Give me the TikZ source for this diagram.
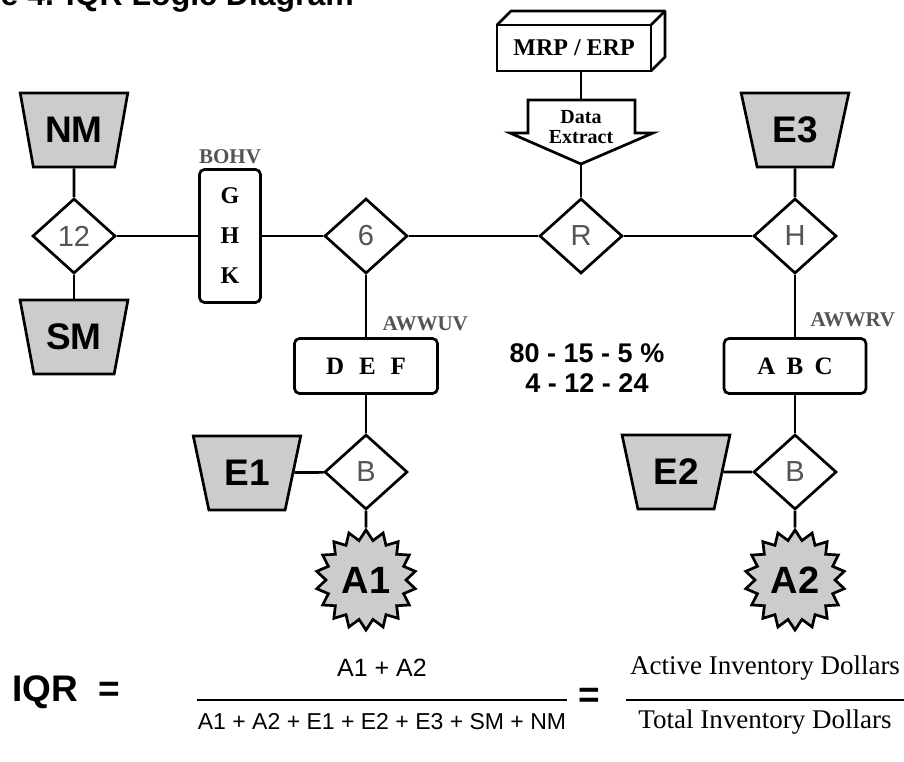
\documentclass[tikz,border=0pt]{standalone}
\usepackage{fontspec}
\setmainfont{Liberation Serif}
\setsansfont{Liberation Sans}
\usetikzlibrary{shapes.geometric}
\newcommand{\sz}[1]{\fontsize{#1}{#1}\selectfont}
\definecolor{shade}{gray}{0.8}
\definecolor{ink}{gray}{0.33}

\begin{document}
\begin{tikzpicture}[x=1pt,y=-1pt,line width=2.7pt,
  dia/.style={draw,diamond,fill=white,minimum width=83pt,minimum height=75pt,inner sep=0pt,font=\sffamily\sz{29},text=ink},
  trap/.style={draw,fill=shade,trapezium,trapezium stretches=true,shape border rotate=180,trapezium left angle=70,trapezium right angle=70,minimum width=108pt,minimum height=74pt,inner sep=0pt,font=\sffamily\bfseries\sz{37}},
  rbox/.style={draw,rounded corners=5pt,fill=white,inner sep=0pt,font=\bfseries\sz{25}},
  burst/.style={draw,fill=shade,star,star points=18,star point ratio=1.25,minimum size=100pt,inner sep=0pt,font=\sffamily\bfseries\sz{38}},
  tag/.style={font=\bfseries\sz{21},text=ink}]
  \useasboundingbox (0,0) rectangle (904,762);
  \clip (0,0) rectangle (904,762);
  \node[font=\sffamily\bfseries\sz{32},anchor=base west] (title) at (-4,6) {e 4. IQR Logic Diagram};
  % source system and extract
  \node[draw,fill=white,outer sep=0pt,minimum width=154pt,minimum height=46pt,inner sep=0pt,font=\bfseries\sz{24}] (mrp) at (574,48) {MRP / ERP};
  \draw[line join=round] (mrp.north west) -- ++(14,-14) -- ++(154,0) -- ++(0,46) -- (mrp.south east);
  \draw (mrp.north east) -- ++(14,-14);
  \draw[fill=white] (528,100) -- (635,100) -- (635,133) -- (653,133) -- (581,164) -- (510,133) -- (528,133) -- cycle;
  \node[font=\bfseries\fontsize{20}{20}\selectfont,align=center] (extract) at (581,127) {Data\\Extract};
  \coordinate (xtop) at (581,100);
  \coordinate (xtip) at (581,164);
  % main line
  \node[trap] (nm) at (74,130) {NM};
  \node[dia] (d12) at (74,236) {12};
  \node[trap] (sm) at (74,337) {SM};
  \node[rbox,minimum width=61pt,minimum height=133pt,align=center,font=\bfseries\fontsize{24}{40}\selectfont] (ghk) at (230,236) {G\\H\\K};
  \node[tag] (bohv) at (230,157) {BOHV};
  \node[dia] (d6) at (366,236) {6};
  \node[dia] (dr) at (581,236) {R};
  \node[dia] (dh) at (795,236) {H};
  \node[trap] (e3) at (795,130) {E3};
  % branches
  \node[rbox,minimum width=143pt,minimum height=55pt] (def) at (366,366) {D\hspace{0.6em}E\hspace{0.6em}F};
  \node[tag,anchor=west] (awwuv) at (378,324) {AWWUV};
  \node[rbox,minimum width=142pt,minimum height=55pt] (abc) at (795,366) {A\hspace{0.45em}B\hspace{0.45em}C};
  \node[tag,anchor=west] (awwrv) at (806,320) {AWWRV};
  \node[font=\sffamily\bfseries\fontsize{27}{30}\selectfont,align=center] (ratio) at (587,368) {80 - 15 - 5 \%\\4 - 12 - 24};
  \node[dia] (b1) at (366,472) {B};
  \node[trap] (e1) at (247,473) {E1};
  \node[burst] (a1) at (366,580) {A1};
  \node[dia] (b2) at (795,472) {B};
  \node[trap] (e2) at (676,472) {E2};
  \node[burst] (a2) at (795,580) {A2};
  % connectors
  \draw (mrp.south -| xtop) -- (xtop);
  \draw (xtip) -- (dr);
  \draw (nm) -- (d12);
  \draw (d12) -- (sm);
  \draw (d12) -- (ghk);
  \draw (ghk) -- (d6);
  \draw (d6) -- (dr);
  \draw (dr) -- (dh);
  \draw (e3) -- (dh);
  \draw (d6) -- (def);
  \draw (dh) -- (abc);
  \draw (def) -- (b1);
  \draw (e1) -- (b1);
  \draw (b1) -- (a1);
  \draw (abc) -- (b2);
  \draw (e2) -- (b2);
  \draw (b2) -- (a2);
  % ratio formula
  \node[font=\sffamily\bfseries\sz{37},anchor=west] (iqr) at (8,692) {IQR\hspace{0.55em}=};
  \node[font=\sffamily\sz{25}] (num) at (382,668) {A1 + A2};
  \node[font=\sffamily\sz{23}] (den) at (382,722) {A1 + A2 + E1 + E2 + E3 + SM + NM};
  \draw[line width=2pt] (197,700) -- (567,700);
  \node[font=\sffamily\bfseries\sz{37}] (eq) at (589,698) {=};
  \node[font=\sz{27}] (act) at (765,668) {Active Inventory Dollars};
  \node[font=\sz{27}] (tot) at (765,722) {Total Inventory Dollars};
  \draw[line width=2pt] (626,700) -- (910,700);
\end{tikzpicture}
\end{document}
